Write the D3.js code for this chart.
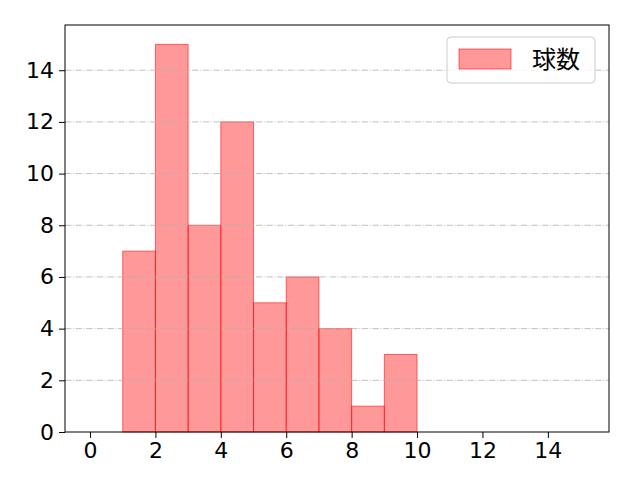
<!DOCTYPE html>
<html>
<head>
<meta charset="utf-8">
<script src="https://cdn.jsdelivr.net/npm/d3@7"></script>
<style>
  html, body { margin: 0; background: #fff; }
  svg text { font-family: "Noto Sans CJK JP", "DejaVu Sans", sans-serif; }
</style>
</head>
<body>
<div id="chart"></div>
<script>
// bins [start, end) and counts
var binStarts = [1, 2, 3, 4, 5, 6, 7, 8, 9];
var counts = [7, 15, 8, 12, 5, 6, 4, 1, 3];
var binWidth = 1;
var xTicks = [0, 2, 4, 6, 8, 10, 12, 14];
var yTicks = [0, 2, 4, 6, 8, 10, 12, 14];
var seriesName = "球数";

var width = 640, height = 480,
    margin = {top: 25, right: 31, bottom: 48, left: 65};

var svg = d3.select("#chart").append("svg")
    .attr("width", width)
    .attr("height", height);

var x = d3.scaleLinear()
    .domain([-0.765, 15.87])
    .range([margin.left, width - margin.right]);

var y = d3.scaleLinear()
    .domain([0, 15.75])
    .range([height - margin.bottom, margin.top]);

// bars
svg.append("g").selectAll("rect")
    .data(binStarts)
    .join("rect")
    .attr("x", function(d) { return x(d); })
    .attr("y", function(d, i) { return y(counts[i]); })
    .attr("width", function(d) { return x(d + binWidth) - x(d); })
    .attr("height", function(d, i) { return y(0) - y(counts[i]); })
    .attr("fill", "rgba(255,0,0,0.4)")
    .attr("stroke", "rgba(255,0,0,0.55)")
    .attr("stroke-width", 1);

// grid
svg.append("g").selectAll("line")
    .data(yTicks.slice(1))
    .join("line")
    .attr("x1", margin.left)
    .attr("x2", width - margin.right)
    .attr("y1", function(d) { return y(d); })
    .attr("y2", function(d) { return y(d); })
    .attr("stroke", "#b0b0b0")
    .attr("stroke-width", 0.8)
    .attr("stroke-dasharray", "6.4 1.6 1 1.6");

// axes
var xAxis = svg.append("g")
    .attr("transform", "translate(0," + (height - margin.bottom) + ")")
    .call(d3.axisBottom(x).tickValues(xTicks).tickSize(6).tickPadding(4));
var yAxis = svg.append("g")
    .attr("transform", "translate(" + margin.left + ",0)")
    .call(d3.axisLeft(y).tickValues(yTicks).tickSize(6).tickPadding(5));

[xAxis, yAxis].forEach(function(a) {
  a.select(".domain").remove();
  a.selectAll("text")
    .style("font-size", "22px")
    .style("font-family", '"DejaVu Sans", sans-serif')
    .attr("fill", "#000");
  a.selectAll("line").attr("stroke", "#000").attr("stroke-width", 1);
});

svg.append("rect")
    .attr("x", margin.left)
    .attr("y", margin.top)
    .attr("width", width - margin.left - margin.right)
    .attr("height", height - margin.top - margin.bottom)
    .attr("fill", "none")
    .attr("stroke", "#000")
    .attr("stroke-width", 1);

// legend
var lg = svg.append("g").attr("transform", "translate(447,37)");
lg.append("rect")
    .attr("width", 148).attr("height", 46).attr("rx", 4)
    .attr("fill", "rgba(255,255,255,0.8)")
    .attr("stroke", "#cccccc");
lg.append("rect")
    .attr("x", 12).attr("y", 12).attr("width", 52).attr("height", 20)
    .attr("fill", "rgba(255,0,0,0.4)")
    .attr("stroke", "rgba(255,0,0,0.55)");
lg.append("text")
    .attr("x", 85).attr("y", 31)
    .style("font-size", "24px")
    .text(seriesName);
</script>
</body>
</html>
